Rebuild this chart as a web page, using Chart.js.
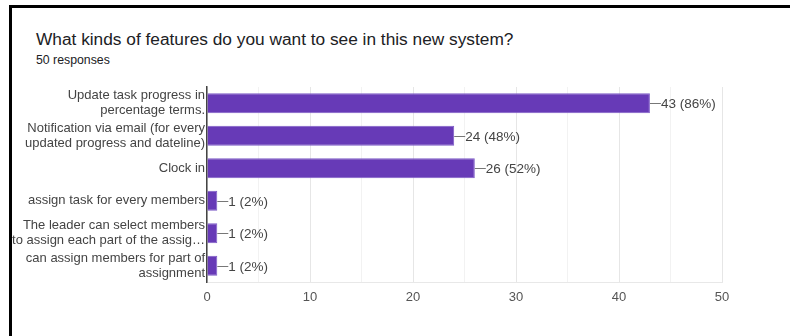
<!DOCTYPE html>
<html>
<head>
<meta charset="utf-8">
<script src="https://cdn.jsdelivr.net/npm/chart.js@4"></script>
<style>
  html, body { margin: 0; padding: 0; background: #fff; }
  body { width: 790px; height: 336px; position: relative; overflow: hidden; font-family: Arial, "Liberation Sans", sans-serif; }
  .frame { position: absolute; left: 9px; top: 5px; right: -5px; bottom: -5px; border-left: 3px solid #000; border-top: 3px solid #000; }
  .title { position: absolute; left: 36px; top: 29px; font-size: 17.3px; color: #202124; white-space: nowrap; }
  .subtitle { position: absolute; left: 36px; top: 53px; font-size: 12.3px; color: #202124; }
  #chart { position: absolute; left: 0; top: 0; }
</style>
</head>
<body>
<div class="frame"></div>
<div class="title">What kinds of features do you want to see in this new system?</div>
<div class="subtitle">50 responses</div>
<canvas id="chart" width="790" height="336"></canvas>
<script>
// Answers (multi-line labels as in the form summary)
const categories = [
  ['Update task progress in', 'percentage terms.'],
  ['Notification via email (for every', 'updated progress and dateline)'],
  'Clock in',
  'assign task for every members',
  ['The leader can select members', 'to assign each part of the assig…'],
  ['can assign members for part of', 'assignment'],
];
const counts = [43, 24, 26, 1, 1, 1];
const totalResponses = 50;
const xTicks = [0, 10, 20, 30, 40, 50];

const FONT = 'Arial, "Liberation Sans", sans-serif';

// Draws "—43 (86%)" next to each bar
const valueLabels = {
  id: 'valueLabels',
  afterDatasetsDraw(chart) {
    const ctx = chart.ctx;
    const meta = chart.getDatasetMeta(0);
    ctx.save();
    ctx.font = '13.5px ' + FONT;
    ctx.fillStyle = '#444';
    ctx.strokeStyle = '#777';
    ctx.lineWidth = 1;
    ctx.textBaseline = 'middle';
    meta.data.forEach((bar, i) => {
      const v = counts[i];
      const pct = Math.round(v / totalResponses * 100);
      const x = bar.x;
      const y = Math.round(bar.y) + 0.5;
      ctx.beginPath();
      ctx.moveTo(x, y);
      ctx.lineTo(x + 11, y);
      ctx.stroke();
      ctx.fillText(`${v} (${pct}%)`, x + 11, y + 1);
    });
    ctx.restore();
  },
};

new Chart(document.getElementById('chart').getContext('2d'), {
  type: 'bar',
  data: {
    labels: categories,
    datasets: [
      {
        data: counts,
        backgroundColor: '#673ab7',
        borderColor: '#7d5bc6',
        borderWidth: 1,
        borderSkipped: 'left',
        barPercentage: 0.62,
        categoryPercentage: 1,
      },
    ],
  },
  options: {
    indexAxis: 'y',
    responsive: false,
    animation: false,
    layout: {
      padding: { left: 0, top: 87, right: 68, bottom: 0 },
    },
    scales: {
      x: {
        min: 0,
        max: 50,
        afterBuildTicks: (scale) => {
          const ticks = [];
          for (let v = 0; v <= 50; v += 5) ticks.push({ value: v });
          scale.ticks = ticks;
        },
        afterFit: (scale) => { scale.height = 54; },
        ticks: {
          autoSkip: false,
          maxRotation: 0,
          padding: 8,
          color: '#555',
          font: { size: 13, family: FONT },
          callback: (v) => (xTicks.includes(v) ? String(v) : ''),
        },
        grid: {
          color: (c) => (c.tick && c.tick.value % 10 === 0 ? '#e6e6e6' : '#f2f2f2'),
          drawTicks: false,
        },
        border: { display: true, color: '#e8e8e8' },
      },
      y: {
        afterFit: (scale) => { scale.width = 207; },
        ticks: {
          autoSkip: false,
          padding: 2,
          color: '#444',
          font: { size: 13, family: FONT, lineHeight: 1.15 },
        },
        grid: { display: false, drawTicks: false },
        border: { display: true, color: '#444', width: 1.5 },
      },
    },
    plugins: {
      legend: { display: false },
      tooltip: { enabled: false },
    },
  },
  plugins: [valueLabels],
});
</script>
</body>
</html>
